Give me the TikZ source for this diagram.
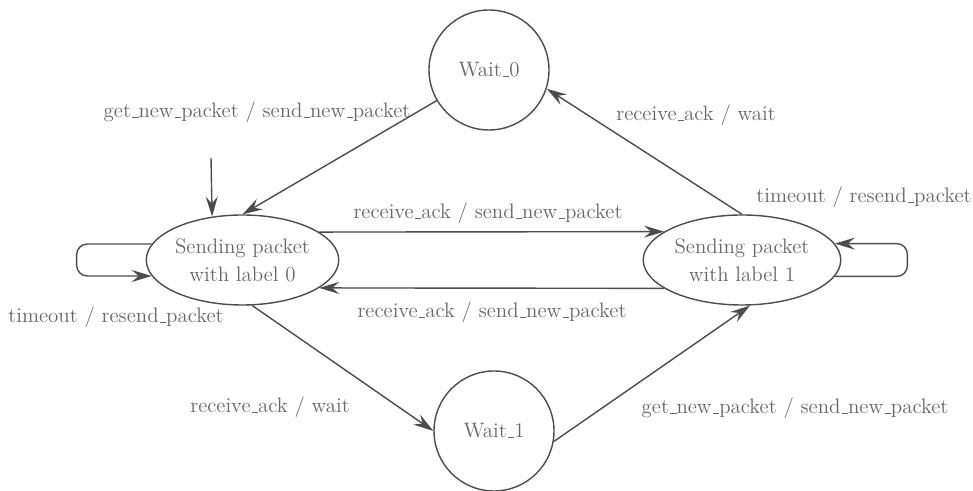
\documentclass[tikz,border=0pt]{standalone}
\usepackage{tikz}
\usetikzlibrary{arrows.meta, shapes.geometric}
\tikzset{>={Stealth[length=4mm, width=2.4mm, inset=1.4mm]}}
\newcommand{\us}{\leavevmode\kern.06em\vbox{\hrule width.3em}}
\tikzset{
  sendstate/.style={draw=black!70, line width=0.8pt, ellipse, inner sep=0pt,
    minimum height=1.8cm, align=center, text=black!60,
    font=\fontsize{11.9}{16}\selectfont},
  waitstate/.style={draw=black!70, line width=0.8pt, circle, inner sep=0pt,
    minimum size=2.4cm, text=black!60, font=\fontsize{11.9}{14}\selectfont},
  lbl/.style={text=black!60, inner sep=1pt, font=\fontsize{11.9}{14}\selectfont},
  edge/.style={draw=black!70, line width=0.8pt, ->}
}

\begin{document}
\begin{tikzpicture}
            \useasboundingbox (0,0) rectangle (19.46,9.82);
            \node[waitstate] (w0) at (9.78, 8.42) {Wait\us 0};
            \node[waitstate] (w1) at (9.88, 1.20) {Wait\us 1};
            \node[sendstate, minimum width=3.85cm] (s0) at (4.85, 4.62) {Sending packet\\with label 0};
            \node[sendstate, minimum width=3.95cm] (s1) at (14.84, 4.62) {Sending packet\\with label 1};
            \coordinate (init) at (4.22, 6.66);
            \draw[edge] (init) -- (s0.125);
            \draw[edge] (w0) -- (s0.north);
            \draw[edge] (s1.north) -- (w0.-18);
            \draw[edge] (s0.20) -- (s1.160);
            \draw[edge] (s1.-160) -- (s0.-20);
            \draw[edge] (s0.-78) -- (w1.west);
            \draw[edge] (w1.-10) -- (s1.-80);
            \draw[edge, rounded corners=6pt] (s0.170) -- ++(-1.5,0) |- (s0.190);
            \draw[edge, rounded corners=6pt] (s1.-10) -- ++(1.45,0) |- (s1.10);
            \node[lbl] (l1) at (5.14, 7.58) {get\us new\us packet / send\us new\us packet};
            \node[lbl] (l2) at (13.92, 7.52) {receive\us ack / wait};
            \node[lbl] (l3) at (17.28, 5.88) {timeout / resend\us packet};
            \node[lbl] (l4) at (9.76, 5.56) {receive\us ack / send\us new\us packet};
            \node[lbl] (l5) at (9.84, 3.58) {receive\us ack / send\us new\us packet};
            \node[lbl] (l6) at (2.32, 3.48) {timeout / resend\us packet};
            \node[lbl] (l7) at (5.40, 1.68) {receive\us ack / wait};
            \node[lbl] (l8) at (15.90, 1.66) {get\us new\us packet / send\us new\us packet};
        \end{tikzpicture}
\end{document}
